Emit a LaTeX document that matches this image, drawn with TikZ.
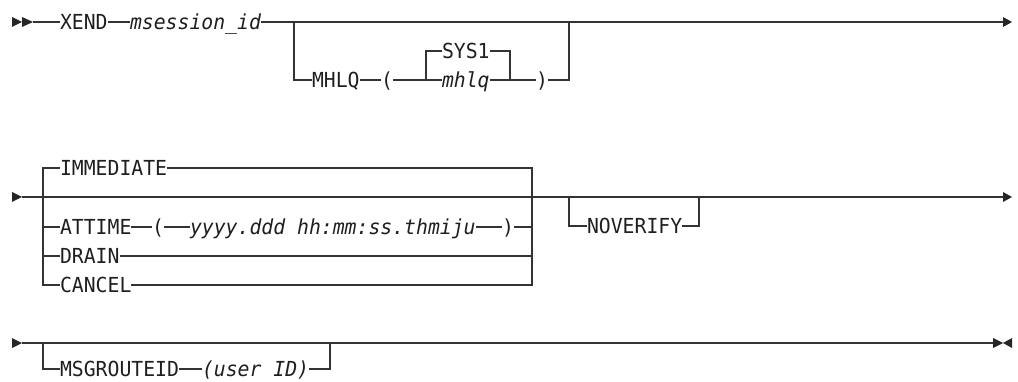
\documentclass[tikz,border=0pt]{standalone}
\usepackage{fontspec}
\setmainfont{DejaVu Sans Mono}[FakeStretch=0.955]
\begin{document}
\begin{tikzpicture}[x=1pt,y=-1pt,
  lbl/.style={inner sep=0pt, outer sep=0pt, anchor=west, text height=15.1pt, text depth=0pt,
    font=\fontsize{20.7pt}{25pt}\selectfont, text=black!88},
  var/.style={lbl, font=\fontsize{20.7pt}{25pt}\selectfont\itshape},
  rail/.style={draw=black!80, line width=1.2pt},
  tip/.style={fill=black!85, draw=none}]
\useasboundingbox (0,0) rectangle (1018,382);

% ---------- Row 1 ----------
\fill[tip] (12,17) -- (22,22) -- (12,27) -- cycle;
\fill[tip] (22,17) -- (33,22) -- (22,27) -- cycle;
\coordinate (s1) at (33,22);
\coordinate (e1) at (1003,22);
\fill[tip] (1003,17) -- (1012,22) -- (1003,27) -- cycle;
\node[lbl] (xend) at (60,22) {XEND};
\node[var] (msid) at (130,22) {msession\_id};
\coordinate (j1a) at (294,22);
\coordinate (j1b) at (569,22);
\node[lbl] (mhlqk) at (312,80) {MHLQ};
\node[lbl] (lp1) at (381,80) {(};
\node[lbl] (sys1) at (442,51) {SYS1};
\node[var] (mhlqv) at (442,80) {mhlq};
\node[lbl] (rp1) at (536,80) {)};
\coordinate (c1l) at (426,80);
\coordinate (c1r) at (510,80);

\draw[rail] (s1) -- (xend.west) (xend.east) -- (msid.west) (msid.east) -- (e1);
\draw[rail] (j1a) |- (mhlqk.west);
\draw[rail] (mhlqk.east) -- (lp1.west) (lp1.east) -- (mhlqv.west);
\draw[rail] (c1l) |- (sys1.west);
\draw[rail] (sys1.east) -| (c1r);
\draw[rail] (mhlqv.east) -- (rp1.west) (rp1.east) -| (j1b);

% ---------- Row 2 ----------
\fill[tip] (12,192) -- (22,197) -- (12,202) -- cycle;
\coordinate (s2) at (22,197);
\coordinate (e2) at (1003,197);
\fill[tip] (1003,192) -- (1012,197) -- (1003,202) -- cycle;
\draw[rail] (s2) -- (e2);
\coordinate (bl) at (43,197);
\coordinate (br) at (532,197);
\node[lbl] (imm) at (60,168) {IMMEDIATE};
\node[lbl] (att) at (60,227) {ATTIME};
\node[lbl] (lp2) at (152,227) {(};
\node[var] (tim) at (190,227) {yyyy.ddd hh:mm:ss.thmiju};
\node[lbl] (rp2) at (502,227) {)};
\node[lbl] (drain) at (60,256) {DRAIN};
\node[lbl] (cancel) at (60,285) {CANCEL};
\draw[rail] (imm.west) -- (imm.west -| bl) -- (cancel.west -| bl) -- (cancel.west);
\draw[rail] (att.west -| bl) -- (att.west);
\draw[rail] (drain.west -| bl) -- (drain.west);
\draw[rail] (imm.east) -- (imm.east -| br) -- (cancel.east -| br) -- (cancel.east);
\draw[rail] (att.east) -- (lp2.west) (lp2.east) -- (tim.west) (tim.east) -- (rp2.west)
  (rp2.east) -- (rp2.east -| br);
\draw[rail] (drain.east) -- (drain.east -| br);
\coordinate (j2a) at (569,197);
\coordinate (j2b) at (699,197);
\node[lbl] (nov) at (587,226) {NOVERIFY};
\draw[rail] (j2a) |- (nov.west);
\draw[rail] (nov.east) -| (j2b);

% ---------- Row 3 ----------
\fill[tip] (12,338) -- (22,343) -- (12,348) -- cycle;
\coordinate (s3) at (22,343);
\coordinate (e3) at (993,343);
\fill[tip] (993,338) -- (1003,343) -- (993,348) -- cycle;
\fill[tip] (1012,338) -- (1003,343) -- (1012,348) -- cycle;
\draw[rail] (s3) -- (e3);
\coordinate (j3a) at (43,343);
\coordinate (j3b) at (330,343);
\node[lbl] (msg) at (60,369) {MSGROUTEID};
\node[var] (uid) at (202,369) {(user ID)};
\draw[rail] (j3a) |- (msg.west);
\draw[rail] (msg.east) -- (uid.west) (uid.east) -| (j3b);
\end{tikzpicture}
\end{document}
